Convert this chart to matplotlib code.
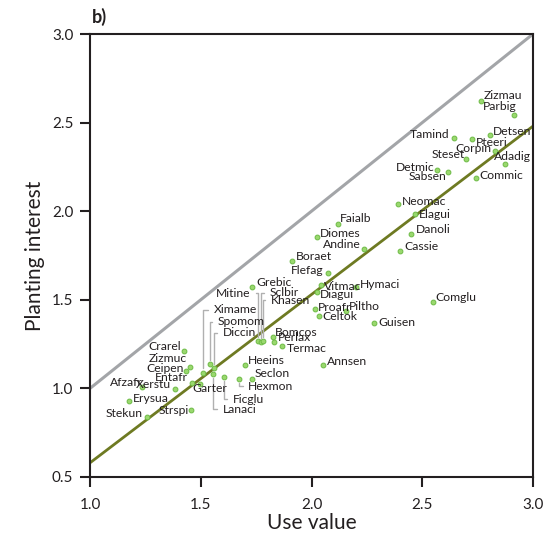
import matplotlib
matplotlib.use("Agg")
import matplotlib.pyplot as plt
import numpy as np

plt.rcParams['font.family'] = ['Lato', 'DejaVu Sans']

# ---------------- data ----------------
species = ["Zizmau", "Parbig", "Tamind", "Pteeri", "Detsen", "Corpin", "Steset", "Adadig",
           "Detmic", "Sabsen", "Commic", "Neomac", "Elagui", "Danoli", "Cassie", "Faialb",
           "Diomes", "Andine", "Boraet", "Flefag", "Vitmac", "Hymaci", "Diagui", "Proafr",
           "Piltho", "Celtok", "Comglu", "Guisen", "Grebic", "Mitine", "Sclbir", "Khasen",
           "Bomcos", "Perlax", "Termac", "Annsen", "Heeins", "Seclon", "Hexmon", "Ficglu",
           "Lanaci", "Ximame", "Spomom", "Diccin", "Crarel", "Zizmuc", "Ceipen", "Entafr",
           "Garter", "Xerstu", "Afzafr", "Erysua", "Stekun", "Strspi"]
use_value = [2.764, 2.914, 2.642, 2.723, 2.804, 2.830, 2.699, 2.874,
             2.567, 2.618, 2.741, 2.389, 2.466, 2.451, 2.400, 2.121,
             2.025, 2.236, 1.913, 2.073, 2.044, 2.202, 2.025, 2.014,
             2.154, 2.034, 2.547, 2.282, 1.733, 1.760, 1.771, 1.780,
             1.825, 1.832, 1.868, 2.053, 1.700, 1.730, 1.674, 1.605,
             1.557, 1.512, 1.542, 1.560, 1.426, 1.451, 1.432, 1.459,
             1.498, 1.385, 1.233, 1.176, 1.256, 1.458]
planting_interest = [2.624, 2.543, 2.415, 2.406, 2.428, 2.341, 2.296, 2.266,
                     2.231, 2.220, 2.187, 2.041, 1.982, 1.873, 1.777, 1.929,
                     1.853, 1.788, 1.721, 1.651, 1.583, 1.571, 1.544, 1.446,
                     1.438, 1.410, 1.489, 1.370, 1.574, 1.267, 1.262, 1.267,
                     1.288, 1.262, 1.239, 1.132, 1.134, 1.051, 1.053, 1.064,
                     1.080, 1.089, 1.138, 1.117, 1.213, 1.121, 1.097, 1.032,
                     1.025, 0.997, 1.010, 0.927, 0.837, 0.878]
fit_intercept = -0.37
fit_slope = 0.95
x_ticks = [1.0, 1.5, 2.0, 2.5, 3.0]
y_ticks = [0.5, 1.0, 1.5, 2.0, 2.5, 3.0]

# ---------------- label layout (pixel offsets, up = +) ----------------
label_pos = {
    "Zizmau": (3, 5, "left"), "Parbig": (-31, 8, "left"), "Tamind": (-4, 3, "right"),
    "Pteeri": (4, -3, "left"), "Detsen": (3, 4, "left"), "Corpin": (-4, 2, "right"),
    "Steset": (-1, 4, "right"), "Adadig": (-11, 8, "left"), "Detmic": (-3, 3, "right"),
    "Sabsen": (-2, -4, "right"), "Commic": (4, 3, "left"), "Neomac": (4, 2, "left"),
    "Elagui": (4, 0, "left"), "Danoli": (4, 4, "left"), "Cassie": (4, 4, "left"),
    "Faialb": (2, 5, "left"), "Diomes": (3, 4, "left"), "Andine": (-3, 4, "right"),
    "Boraet": (4, 4, "left"), "Flefag": (-4, 3, "right"), "Vitmac": (3, -1, "left"),
    "Hymaci": (4, 3, "left"), "Diagui": (3, -2, "left"), "Proafr": (3, 2, "left"),
    "Piltho": (3, 4, "left"), "Celtok": (3, -1, "left"), "Comglu": (3, 4, "left"),
    "Guisen": (4, 0, "left"), "Grebic": (4, 4, "left"), "Bomcos": (2, 5, "left"),
    "Perlax": (4, 4, "left"), "Termac": (5, -2, "left"), "Annsen": (4, 4, "left"),
    "Heeins": (3, 4, "left"), "Seclon": (3, 6, "left"), "Crarel": (-3, 4, "right"),
    "Zizmuc": (-3, 8, "right"), "Ceipen": (-2, 3, "right"), "Entafr": (-4, 5, "right"),
    "Garter": (-8, -5, "left"), "Xerstu": (-4, 4, "right"), "Afzafr": (1, 4, "right"),
    "Erysua": (4, 3, "left"), "Stekun": (-4, 4, "right"), "Strspi": (-3, 0, "right"),
}
leader_pos = {
    "Mitine": (-8, 48, "right"), "Sclbir": (9, 49, "left"), "Khasen": (8, 41, "left"),
    "Ximame": (10, 63, "left"), "Spomom": (8, 42, "left"), "Diccin": (9, 35, "left"),
    "Lanaci": (9, -35, "left"), "Ficglu": (9, -22, "left"), "Hexmon": (9, -7, "left"),
}

W, H = 558, 537
fig = plt.figure(figsize=(W / 100, H / 100), dpi=100)
ax = fig.add_axes([90 / W, 1 - 477 / H, (533 - 90) / W, (477 - 34) / H])

xs = np.array([1.0, 3.0])
ax.plot(xs, xs, color="#a3a5a8", lw=2.2, zorder=2, solid_capstyle="butt")
ax.plot(xs, fit_intercept + fit_slope * xs, color="#6e7a22", lw=2.0, zorder=2,
        solid_capstyle="butt")
ax.scatter(use_value, planting_interest, s=12, facecolor="#9ad86e",
           edgecolor="#6dbb45", linewidth=0.7, zorder=4)

txt_kw = dict(fontsize=8.7, color="#231f20", va="center", zorder=5)
for name, x, y in zip(species, use_value, planting_interest):
    if name in label_pos:
        dx, dy, ha = label_pos[name]
        ax.annotate(name, (x, y), xytext=(dx, dy), textcoords="offset pixels",
                    ha=ha, **txt_kw)
    elif name in leader_pos:
        dx, dy, ha = leader_pos[name]
        rel = (1, 0.5) if ha == "right" else (0, 0.5)
        ax.annotate(name, (x, y), xytext=(dx, dy), textcoords="offset pixels",
                    ha=ha, **txt_kw,
                    arrowprops=dict(arrowstyle="-", color="#b0b0b0", lw=1.0,
                                    connectionstyle="angle,angleA=0,angleB=90,rad=0",
                                    relpos=rel, shrinkA=2, shrinkB=3))

ax.set_xlim(1.0, 3.0)
ax.set_ylim(0.5, 3.0)
ax.set_xticks(x_ticks)
ax.set_yticks(y_ticks)
ax.set_xticklabels([f"{v:.1f}" for v in x_ticks])
ax.set_yticklabels([f"{v:.1f}" for v in y_ticks])
ax.tick_params(direction="out", length=7, width=1.5, labelsize=11,
               color="#231f20", labelcolor="#231f20")
ax.tick_params(axis="x", pad=8)
ax.tick_params(axis="y", pad=5)
for sp in ax.spines.values():
    sp.set_linewidth(1.5)
    sp.set_color("#231f20")

ax.set_xlabel("Use value", fontsize=15, color="#231f20", labelpad=1)
ax.set_ylabel("Planting interest", fontsize=15, color="#231f20", labelpad=5)
fig.text(92 / W, 1 - 17 / H, "b)", fontsize=13, fontweight="bold",
         color="#231f20", va="center", ha="left")

fig.savefig("out.png", dpi=100)
